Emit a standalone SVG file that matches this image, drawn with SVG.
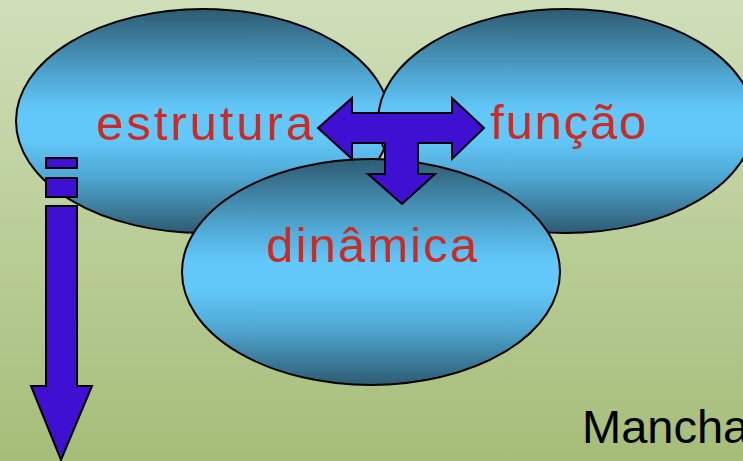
<svg xmlns="http://www.w3.org/2000/svg" width="743" height="461" viewBox="0 0 743 461">
<defs>
<linearGradient id="bg" x1="0" y1="0" x2="0" y2="1">
<stop offset="0" stop-color="#cfdfb9"/>
<stop offset="1" stop-color="#a6bd79"/>
</linearGradient>
<linearGradient id="ball" x1="0" y1="0" x2="0" y2="1">
<stop offset="0" stop-color="#2e5b72"/>
<stop offset="0.3" stop-color="#4fa7d2"/>
<stop offset="0.45" stop-color="#62c8fa"/>
<stop offset="0.58" stop-color="#62c8fa"/>
<stop offset="0.75" stop-color="#4fa7d2"/>
<stop offset="1" stop-color="#2e5b72"/>
</linearGradient>
<style>
.node ellipse{fill:url(#ball);stroke:#000;stroke-width:2}
.lbl{font-family:"Liberation Sans",Arial,sans-serif;font-size:49px;fill:#cc2a22}
.arr{fill:#3f0fd2;stroke:#000;stroke-width:2;stroke-linejoin:miter}
</style>
</defs>
<rect width="743" height="461" fill="url(#bg)"/>
<g id="estrutura" class="node">
<ellipse cx="203" cy="121" rx="187" ry="112"/>
</g>
<g id="funcao" class="node">
<ellipse cx="566" cy="121" rx="188" ry="112"/>
</g>
<g id="dinamica" class="node">
<ellipse cx="371" cy="272" rx="189" ry="113"/>
</g>
<g id="labels">
<text class="lbl" x="96" y="140" textLength="217" lengthAdjust="spacing">estrutura</text>
<text class="lbl" x="490" y="139" textLength="156" lengthAdjust="spacing">função</text>
<text class="lbl" x="266" y="262" textLength="211" lengthAdjust="spacing">dinâmica</text>
</g>
<g id="connectors">
<path class="arr" d="M318,128 L352,98 L352,113 L452,113 L452,98 L484,128 L452,159 L452,143 L418,143 L418,174 L435,174 L402,204 L368,174 L385,174 L385,143 L352,143 L352,159 Z"/>
<rect class="arr" x="46" y="158" width="31" height="10"/>
<rect class="arr" x="46" y="178" width="31" height="19"/>
<path class="arr" d="M46,206 L77,206 L77,386 L92,386 L61,460 L31,386 L46,386 Z"/>
</g>
<text x="582" y="443" font-family="'Liberation Sans',Arial,sans-serif" font-size="47" fill="#000">Mancha</text>
</svg>
